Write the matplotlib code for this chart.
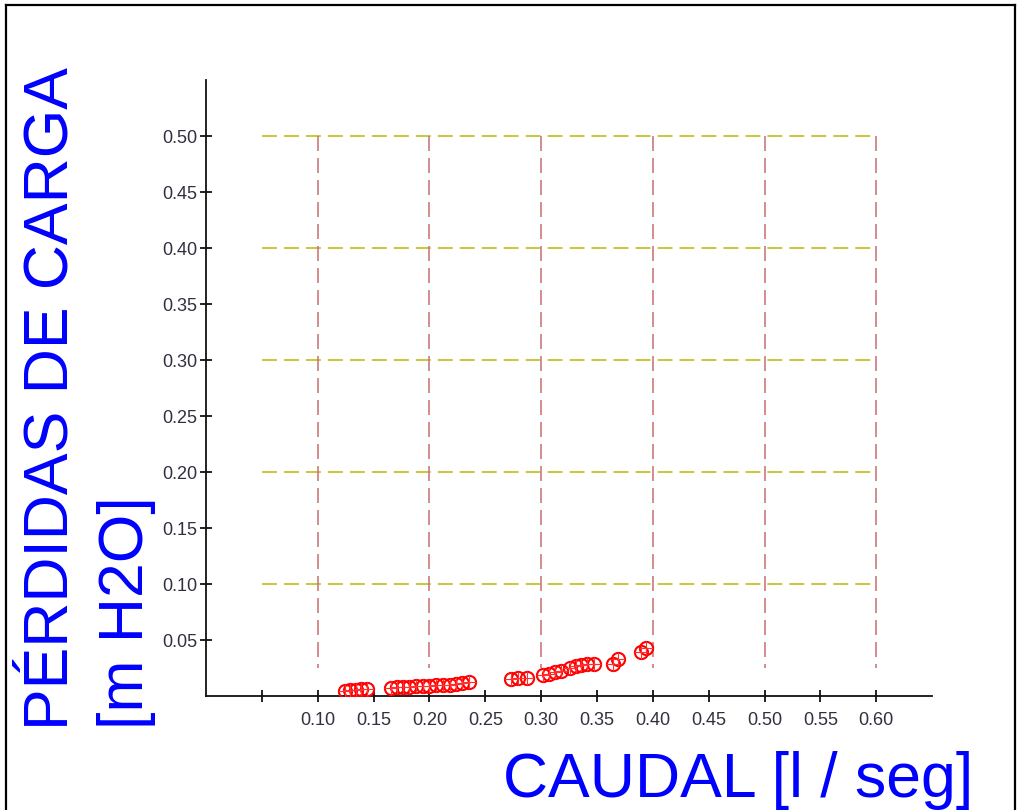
import matplotlib
matplotlib.use("Agg")
import matplotlib.pyplot as plt
from matplotlib.lines import Line2D
import numpy as np

# Data
caudal = [0.124, 0.129, 0.134, 0.139, 0.144,
          0.166, 0.171, 0.176, 0.182, 0.188, 0.194, 0.200, 0.206, 0.212, 0.218,
          0.224, 0.229, 0.235,
          0.273, 0.279, 0.287,
          0.302, 0.307, 0.312, 0.318,
          0.326, 0.331, 0.336, 0.341, 0.347,
          0.364, 0.369,
          0.389, 0.394]
perdidas = [0.0045, 0.0050, 0.0055, 0.0060, 0.0065,
            0.0075, 0.0080, 0.0082, 0.0085, 0.0088, 0.0090, 0.0092, 0.0095, 0.0098, 0.0100,
            0.0105, 0.0115, 0.0125,
            0.0155, 0.0160, 0.0165,
            0.0185, 0.0200, 0.0215, 0.0225,
            0.0250, 0.0270, 0.0280, 0.0290, 0.0290,
            0.0290, 0.0330,
            0.0390, 0.0430]

x_ticks = [0.05, 0.10, 0.15, 0.20, 0.25, 0.30, 0.35, 0.40, 0.45, 0.50, 0.55, 0.60]
x_labels = ["", "0.10", "0.15", "0.20", "0.25", "0.30", "0.35", "0.40", "0.45", "0.50", "0.55", "0.60"]
y_ticks = [0.05, 0.10, 0.15, 0.20, 0.25, 0.30, 0.35, 0.40, 0.45, 0.50]
y_labels = ["0.05", "0.10", "0.15", "0.20", "0.25", "0.30", "0.35", "0.40", "0.45", "0.50"]
h_grid = [0.10, 0.20, 0.30, 0.40, 0.50]
v_grid = [0.10, 0.20, 0.30, 0.40, 0.50, 0.60]

plt.rcParams['font.family'] = ['Liberation Sans', 'DejaVu Sans']

W, H = 1019, 810
fig = plt.figure(figsize=(W / 100, H / 100), dpi=100)
ax = fig.add_axes([0.2022, 0.1407, 0.7125, 0.7605])
ax.set_xlim(0, 0.65)
ax.set_ylim(0, 0.55)

# grid-like dashed lines
for yv in h_grid:
    ax.plot([0.05, 0.60], [yv, yv], color='#c8c83c', lw=1.4, dashes=(7.7, 3.6), zorder=1)
for xv in v_grid:
    ax.plot([xv, xv], [0.50, 0.025], color='#cc7a7a', lw=1.2, dashes=(9, 4.2), zorder=1)

# data
ax.plot(caudal, perdidas, linestyle='none', marker='o', markersize=9.5,
        markerfacecolor='none', markeredgecolor='#ff0000', markeredgewidth=1.5, zorder=3)
ax.plot(caudal, perdidas, linestyle='none', marker='+', markersize=9.5,
        markeredgecolor='#ff3030', markeredgewidth=0.8, zorder=3)

for s in ['top', 'right']:
    ax.spines[s].set_visible(False)
for s in ['left', 'bottom']:
    ax.spines[s].set_linewidth(1.3)
    ax.spines[s].set_color('#111111')

ax.set_xticks(x_ticks)
ax.set_xticklabels(x_labels)
ax.set_yticks(y_ticks)
ax.set_yticklabels(y_labels)
ax.tick_params(direction='inout', length=9, width=1.3, color='#111111',
               labelsize=13, labelcolor='#303040')
ax.tick_params(axis='x', pad=7)
ax.tick_params(axis='y', pad=2)

fig.text(503 / W, (H - 797) / H, "CAUDAL [l / seg]", fontsize=45, color='#0000ff',
         ha='left', va='baseline')
fig.text(67 / W, (H - 730) / H, "PÉRDIDAS DE CARGA", fontsize=45, color='#0000ff',
         rotation=90, rotation_mode='anchor', ha='left', va='baseline')
fig.text(143 / W, (H - 729) / H, "[m H2O]", fontsize=45, color='#0000ff',
         rotation=90, rotation_mode='anchor', ha='left', va='baseline')

# figure frame (top, left, right)
lx, rx, ty = 5.5 / W, 1014.5 / W, 1 - 4.5 / H
for xs, ys in [([lx, rx], [ty, ty]), ([lx, lx], [ty, 0]), ([rx, rx], [ty, 0])]:
    fig.add_artist(Line2D(xs, ys, transform=fig.transFigure, color='black', lw=1.6))

fig.savefig("out.png", dpi=100)
